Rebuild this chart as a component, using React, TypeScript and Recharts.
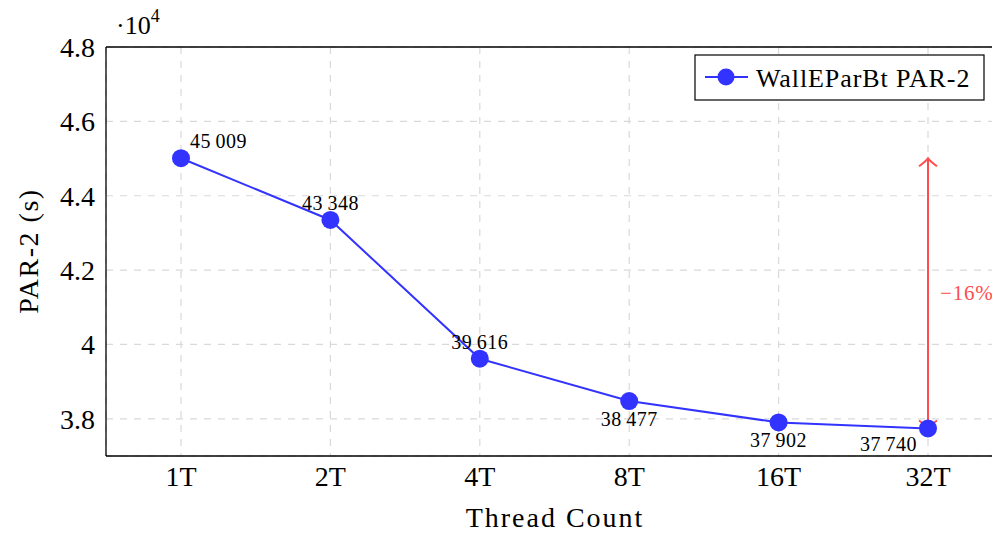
import { LineChart, Line, XAxis, YAxis, CartesianGrid, ReferenceLine, LabelList, Customized } from "recharts"

const threadLabels = ["1T", "2T", "4T", "8T", "16T", "32T"]
const par2Seconds = [45009, 43348, 39616, 38477, 37902, 37740]
const yTicks = [38000, 40000, 42000, 44000, 46000, 48000]
const seriesName = "WallEParBt PAR-2"
const reductionLabel = "\u221216%"

const FONT = "'Liberation Serif', serif"
const BLUE = "#3333ff"
const RED = "#ff4d4d"

const chartData = threadLabels.map((thread, idx) => ({ thread, par2: par2Seconds[idx] }))

// where each point's value label sits relative to the marker
const labelPlacement = ["above-right", "above", "above", "below", "below", "below-left"]

const fmt = (v: number) => String(v).replace(/\B(?=(\d{3})+(?!\d))/g, "\u2009")

function PointLabel(props: any) {
  const { x, y, value, index } = props
  const place = labelPlacement[index]
  let tx = x
  let ty = y
  let anchor: "start" | "middle" | "end" = "middle"
  if (place === "above-right") { tx = x + 9; ty = y - 17; anchor = "start" }
  else if (place === "above") { ty = y - 17 }
  else if (place === "below") { ty = y + 18 }
  else if (place === "below-left") { tx = x - 11; ty = y + 16; anchor = "end" }
  return (
    <text x={tx} y={ty} textAnchor={anchor} dominantBaseline="central" fontFamily={FONT} fontSize={20} letterSpacing={0.5} fill="#000">
      {fmt(value)}
    </text>
  )
}

function ArrowShape(props: any) {
  const { x1, y1, x2, y2 } = props
  const top = Math.min(y1, y2)
  const bottom = Math.max(y1, y2)
  const x = x1
  return (
    <g>
      <line x1={x} y1={bottom} x2={x} y2={top} stroke={RED} strokeWidth={2} />
      <path d={`M${x - 9},${top + 8} Q${x - 2},${top + 3} ${x},${top} Q${x + 2},${top + 3} ${x + 9},${top + 8}`} fill="none" stroke={RED} strokeWidth={2} />
      <path d={`M${x - 9},${bottom - 8} Q${x - 2},${bottom - 3} ${x},${bottom} Q${x + 2},${bottom - 3} ${x + 9},${bottom - 8}`} fill="none" stroke={RED} strokeWidth={2} />
      <text x={x + 12} y={(top + bottom) / 2} dominantBaseline="central" fontFamily={FONT} fontSize={21} letterSpacing={0.8} fill={RED}>
        {reductionLabel}
      </text>
    </g>
  )
}

function Decorations() {
  return (
    <g fontFamily={FONT} fill="#000">
      <text x={116} y={25} fontSize={26} dominantBaseline="central">
        ·10<tspan dy={-9} fontSize={18}>4</tspan>
      </text>
      <text x={28} y={251} fontSize={28} letterSpacing={1.5} textAnchor="middle" dominantBaseline="central" transform="rotate(-90, 28, 251)">
        PAR-2 (s)
      </text>
      <text x={555} y={517} fontSize={28} letterSpacing={2} textAnchor="middle" dominantBaseline="central">
        Thread Count
      </text>
      <rect x={695} y={55} width={289} height={45} fill="#fff" stroke="#000" strokeWidth={1.2} />
      <line x1={705} y1={77} x2={748} y2={77} stroke={BLUE} strokeWidth={2} />
      <circle cx={726} cy={77} r={8.5} fill={BLUE} />
      <text x={756} y={78} fontSize={26} letterSpacing={0.9} dominantBaseline="central">
        {seriesName}
      </text>
    </g>
  )
}

export default function App() {
  return (
    <div style={{ position: "fixed", left: 0, top: 0, width: 992, height: 534, overflow: "hidden", background: "#fff" }}>
      <LineChart width={1010} height={534} data={chartData} margin={{ top: 47, right: 7, bottom: 0, left: 0 }}>
        <CartesianGrid stroke="#d9d9d9" strokeDasharray="7 7" strokeWidth={1.2} />
        <XAxis
          dataKey="thread"
          height={78}
          padding={{ left: 75, right: 75 }}
          tickLine={false}
          tickSize={6}
          tickMargin={4}
          axisLine={{ stroke: "#000", strokeWidth: 1.3 }}
          tick={{ fontFamily: FONT, fontSize: 28, fill: "#000" }}
        />
        <YAxis
          width={106}
          domain={[37000, 48000]}
          ticks={yTicks}
          tickFormatter={(v: number) => String(v / 10000)}
          tickLine={false}
          tickSize={6}
          tickMargin={5}
          axisLine={{ stroke: "#000", strokeWidth: 1.3 }}
          tick={{ fontFamily: FONT, fontSize: 28, fill: "#000" }}
        />
        <ReferenceLine y={48000} stroke="#000" strokeWidth={1.3} />
        <ReferenceLine
          segment={[
            { x: threadLabels[threadLabels.length - 1], y: par2Seconds[par2Seconds.length - 1] },
            { x: threadLabels[threadLabels.length - 1], y: par2Seconds[0] },
          ]}
          shape={ArrowShape}
        />
        <Line
          type="linear"
          dataKey="par2"
          name={seriesName}
          stroke={BLUE}
          strokeWidth={2}
          dot={{ r: 9, fill: BLUE, stroke: "none" }}
          activeDot={false}
          isAnimationActive={false}
        >
          <LabelList dataKey="par2" content={PointLabel} />
        </Line>
        <Customized component={Decorations} />
      </LineChart>
    </div>
  )
}
